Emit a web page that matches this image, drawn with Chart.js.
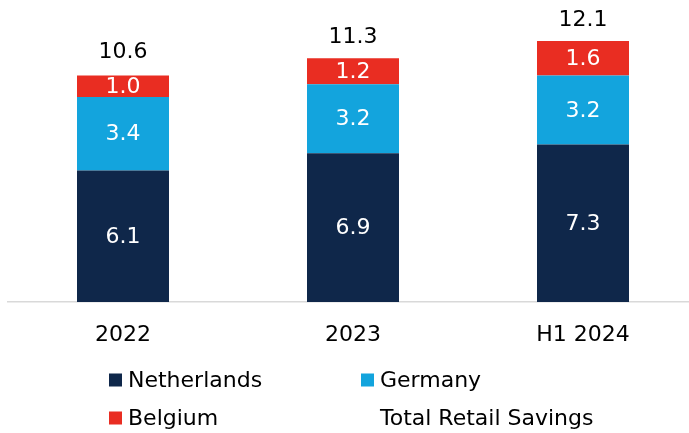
<!DOCTYPE html>
<html>
<head>
<meta charset="utf-8">
<script src="https://cdn.jsdelivr.net/npm/chart.js@4"></script>
<style>
  html, body { margin: 0; padding: 0; background: #fff; overflow: hidden; width: 689px; height: 433px; }
  #wrap { position: absolute; left: 0; top: 0; width: 698px; height: 433px; }
</style>
</head>
<body>
<div id="wrap"><canvas id="c" width="698" height="433"></canvas></div>
<script>
const categories = ['2022', '2023', 'H1 2024'];
const netherlands = [6.1, 6.9, 7.3];
const germany = [3.4, 3.2, 3.2];
const belgium = [1.0, 1.2, 1.6];
const totals = [10.6, 11.3, 12.1];
const seriesNames = ['Netherlands', 'Germany', 'Belgium'];
const totalName = 'Total Retail Savings';

const FONT = '"DejaVu Sans", Verdana, sans-serif';
const FS = 22;

const labelPlugin = {
  id: 'labels',
  afterDatasetsDraw(chart) {
    const ctx = chart.ctx;
    ctx.save();
    ctx.font = FS + 'px ' + FONT;
    ctx.textAlign = 'center';
    ctx.textBaseline = 'middle';
    chart.data.datasets.forEach((ds, i) => {
      const meta = chart.getDatasetMeta(i);
      meta.data.forEach((bar, j) => {
        const v = ds.data[j];
        ctx.fillStyle = '#ffffff';
        ctx.fillText(v.toFixed(1), bar.x, (bar.y + bar.base) / 2 + 1);
      });
    });
    const y = chart.scales.y;
    const meta0 = chart.getDatasetMeta(0);
    ctx.fillStyle = '#000000';
    totals.forEach((t, j) => {
      ctx.fillText(t.toFixed(1), meta0.data[j].x, y.getPixelForValue(t) - 21);
    });
    ctx.restore();
  }
};

const legendPlugin = {
  id: 'customLegend',
  afterDraw(chart) {
    const ctx = chart.ctx;
    const items = chart.data.datasets.map(ds => ({ text: ds.label, color: ds.backgroundColor }));
    items.push({ text: totalName, color: null });
    const pos = [[109, 380], [361, 380], [109, 418], [361, 418]];
    ctx.save();
    ctx.font = FS + 'px ' + FONT;
    ctx.textAlign = 'left';
    ctx.textBaseline = 'middle';
    items.forEach((it, k) => {
      const [x, yc] = pos[k];
      if (it.color) {
        ctx.fillStyle = it.color;
        ctx.fillRect(x, yc - 6.5, 13, 13);
      }
      ctx.fillStyle = '#000000';
      ctx.fillText(it.text, x + 19, yc + 1);
    });
    ctx.restore();
  }
};

const colors = ['#0f274a', '#13a4dd', '#e92d22'];
const seriesData = [netherlands, germany, belgium];

new Chart(document.getElementById('c'), {
  type: 'bar',
  data: {
    labels: categories,
    datasets: seriesNames.map((n, i) => ({
      label: n,
      data: seriesData[i],
      backgroundColor: colors[i],
      borderWidth: 0,
      barPercentage: 0.4,
      categoryPercentage: 1.0
    }))
  },
  options: {
    responsive: false,
    animation: false,
    layout: { padding: { left: 8, right: 0, top: 0, bottom: 0 } },
    plugins: { legend: { display: false }, tooltip: { enabled: false } },
    scales: {
      x: {
        stacked: true,
        grid: { display: false, drawTicks: false },
        border: { display: true, color: '#d9d9d9', width: 1.5 },
        ticks: { color: '#000', font: { family: FONT, size: FS }, padding: 20 },
        afterFit(scale) { scale.height = 131; }
      },
      y: {
        stacked: true,
        display: false,
        min: 0,
        max: 14
      }
    }
  },
  plugins: [labelPlugin, legendPlugin]
});
</script>
</body>
</html>
